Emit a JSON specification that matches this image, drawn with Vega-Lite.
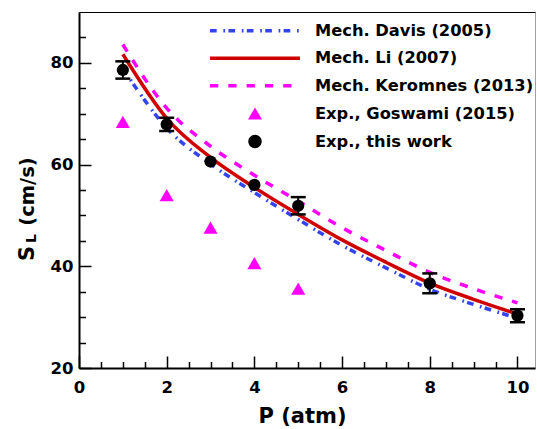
{
  "$schema": "https://vega.github.io/schema/vega-lite/v6.json",
  "width": 456,
  "height": 356,
  "autosize": {"type": "none"},
  "padding": {"left": 79, "top": 12, "right": 2, "bottom": 61},
  "background": "white",
  "config": {
    "font": "DejaVu Sans",
    "view": {"stroke": "#a0a0a0", "strokeWidth": 1},
    "axis": {
      "grid": false,
      "labelFont": "DejaVu Sans",
      "labelFontSize": 16.5,
      "labelFontWeight": "bold",
      "labelColor": "#000",
      "titleFont": "DejaVu Sans",
      "titleFontWeight": "bold",
      "titleColor": "#000",
      "tickColor": "#000",
      "domainColor": "#000"
    },
    "legend": {
      "orient": "none",
      "title": null,
      "padding": 0,
      "symbolSize": 8100,
      "symbolStrokeWidth": 3.5,
      "clipHeight": 20,
      "rowPadding": 7.6,
      "labelOffset": 13,
      "labelFont": "DejaVu Sans",
      "labelFontSize": 16.3,
      "labelFontWeight": "bold",
      "labelColor": "#000",
      "labelLimit": 400,
      "symbolOpacity": 1
    }
  },
  "datasets": {
    "lines": [
      {"series": "Mech. Davis (2005)", "P": 1, "SL": 78.9},
      {"series": "Mech. Davis (2005)", "P": 2, "SL": 67.2},
      {"series": "Mech. Davis (2005)", "P": 3, "SL": 60.1},
      {"series": "Mech. Davis (2005)", "P": 4, "SL": 54.5},
      {"series": "Mech. Davis (2005)", "P": 5, "SL": 49.2},
      {"series": "Mech. Davis (2005)", "P": 6, "SL": 44.1},
      {"series": "Mech. Davis (2005)", "P": 7, "SL": 39.7},
      {"series": "Mech. Davis (2005)", "P": 8, "SL": 35.5},
      {"series": "Mech. Davis (2005)", "P": 9, "SL": 32.5},
      {"series": "Mech. Davis (2005)", "P": 10, "SL": 29.8},
      {"series": "Mech. Li (2007)", "P": 1, "SL": 81.7},
      {"series": "Mech. Li (2007)", "P": 2, "SL": 69.1},
      {"series": "Mech. Li (2007)", "P": 3, "SL": 61.4},
      {"series": "Mech. Li (2007)", "P": 4, "SL": 55.5},
      {"series": "Mech. Li (2007)", "P": 5, "SL": 50.2},
      {"series": "Mech. Li (2007)", "P": 6, "SL": 45.2},
      {"series": "Mech. Li (2007)", "P": 7, "SL": 40.8},
      {"series": "Mech. Li (2007)", "P": 8, "SL": 36.7},
      {"series": "Mech. Li (2007)", "P": 9, "SL": 33.5},
      {"series": "Mech. Li (2007)", "P": 10, "SL": 30.6},
      {"series": "Mech. Keromnes (2013)", "P": 1, "SL": 83.6},
      {"series": "Mech. Keromnes (2013)", "P": 2, "SL": 71.1},
      {"series": "Mech. Keromnes (2013)", "P": 3, "SL": 63.6},
      {"series": "Mech. Keromnes (2013)", "P": 4, "SL": 57.9},
      {"series": "Mech. Keromnes (2013)", "P": 5, "SL": 52.8},
      {"series": "Mech. Keromnes (2013)", "P": 6, "SL": 47.6},
      {"series": "Mech. Keromnes (2013)", "P": 7, "SL": 43.1},
      {"series": "Mech. Keromnes (2013)", "P": 8, "SL": 38.8},
      {"series": "Mech. Keromnes (2013)", "P": 9, "SL": 35.6},
      {"series": "Mech. Keromnes (2013)", "P": 10, "SL": 32.8}
    ],
    "goswami": [
      {"series": "Exp., Goswami (2015)", "P": 1, "SL": 68.4},
      {"series": "Exp., Goswami (2015)", "P": 2, "SL": 54.0},
      {"series": "Exp., Goswami (2015)", "P": 3, "SL": 47.6},
      {"series": "Exp., Goswami (2015)", "P": 4, "SL": 40.6},
      {"series": "Exp., Goswami (2015)", "P": 5, "SL": 35.6}
    ],
    "thiswork": [
      {"series": "Exp., this work", "P": 1, "SL": 78.6, "lo": 76.9, "hi": 80.3},
      {"series": "Exp., this work", "P": 2, "SL": 67.9, "lo": 66.6, "hi": 69.2},
      {"series": "Exp., this work", "P": 3, "SL": 60.6, "lo": null, "hi": null},
      {"series": "Exp., this work", "P": 4, "SL": 56.0, "lo": null, "hi": null},
      {"series": "Exp., this work", "P": 5, "SL": 51.9, "lo": 50.2, "hi": 53.6},
      {"series": "Exp., this work", "P": 8, "SL": 36.65, "lo": 34.7, "hi": 38.6},
      {"series": "Exp., this work", "P": 10, "SL": 30.3, "lo": 29.0, "hi": 31.55}
    ]
  },
  "layer": [
    {
      "data": {"name": "lines"},
      "transform": [{"filter": "datum.series === 'Mech. Davis (2005)'"}],
      "mark": {"type": "line", "interpolate": "monotone", "strokeWidth": 3.5, "strokeCap": "butt", "strokeDash": [6.7, 6.7, 1.7, 3.3]},
      "encoding": {
        "x": {
          "field": "P", "type": "quantitative",
          "scale": {"domain": [0, 10.4], "nice": false, "zero": false},
          "axis": {
            "orient": "bottom", "values": [0, 2, 4, 6, 8, 10], "ticks": false,
            "domain": true, "domainWidth": 2, "labelPadding": 11, "labelFlush": false, "labelOverlap": false,
            "title": "P (atm)", "titleFontSize": 21, "titleX": 223, "titleY": 54,
            "titleAlign": "center", "titleBaseline": "alphabetic"
          }
        },
        "y": {
          "field": "SL", "type": "quantitative",
          "scale": {"domain": [20, 90], "nice": false, "zero": false},
          "axis": {
            "orient": "left", "values": [20, 40, 60, 80], "ticks": false,
            "domain": true, "domainWidth": 2, "labelPadding": 6, "labelFlush": false, "labelOverlap": false,
            "title": "S", "titleFontSize": 21, "titleX": -46, "titleY": 241, "titleAngle": -90,
            "titleAlign": "center", "titleBaseline": "alphabetic"
          }
        },
        "color": {
          "field": "series", "type": "nominal",
          "scale": {"range": ["#3344ee"]},
          "legend": {"legendX": 129, "legendY": 8.7, "symbolType": "M-1,0L1,0", "symbolDash": [6.7, 6.7, 1.7, 3.3]}
        }
      }
    },
    {
      "data": {"name": "lines"},
      "transform": [{"filter": "datum.series === 'Mech. Li (2007)'"}],
      "mark": {"type": "line", "interpolate": "monotone", "strokeWidth": 3.5, "strokeCap": "butt"},
      "encoding": {
        "x": {
          "field": "P", "type": "quantitative",
          "scale": {"domain": [0, 10.4], "nice": false, "zero": false},
          "axis": null
        },
        "y": {
          "field": "SL", "type": "quantitative",
          "scale": {"domain": [20, 90], "nice": false, "zero": false},
          "axis": null
        },
        "color": {
          "field": "series", "type": "nominal",
          "scale": {"range": ["#d00000"]},
          "legend": {"legendX": 129, "legendY": 36.3, "symbolType": "M-1,0L1,0"}
        }
      }
    },
    {
      "data": {"name": "lines"},
      "transform": [{"filter": "datum.series === 'Mech. Keromnes (2013)'"}],
      "mark": {"type": "line", "interpolate": "monotone", "strokeWidth": 3.5, "strokeCap": "butt", "strokeDash": [8.3, 10]},
      "encoding": {
        "x": {
          "field": "P", "type": "quantitative",
          "scale": {"domain": [0, 10.4], "nice": false, "zero": false},
          "axis": null
        },
        "y": {
          "field": "SL", "type": "quantitative",
          "scale": {"domain": [20, 90], "nice": false, "zero": false},
          "axis": null
        },
        "color": {
          "field": "series", "type": "nominal",
          "scale": {"range": ["#ff00ff"]},
          "legend": {"legendX": 129, "legendY": 63.7, "symbolType": "M-1,0L1,0", "symbolDash": [8.3, 10]}
        }
      }
    },
    {
      "data": {"name": "goswami"},
      "mark": {"type": "point", "shape": "triangle-up", "filled": true, "size": 200, "opacity": 1},
      "encoding": {
        "x": {
          "field": "P", "type": "quantitative",
          "scale": {"domain": [0, 10.4], "nice": false, "zero": false},
          "axis": {"orient": "bottom", "values": [0, 2, 4, 6, 8, 10], "ticks": true, "tickSize": -12, "tickWidth": 1.5, "labels": false, "domain": false, "title": null}
        },
        "y": {
          "field": "SL", "type": "quantitative",
          "scale": {"domain": [20, 90], "nice": false, "zero": false},
          "axis": {
            "orient": "left", "values": [20, 40, 60, 80], "ticks": true, "tickSize": -12, "tickWidth": 1.5, "labels": false, "domain": false,
            "title": "(cm/s)", "titleFontSize": 19.5, "titleX": -46, "titleY": 179, "titleAngle": -90,
            "titleAlign": "center", "titleBaseline": "alphabetic"
          }
        },
        "color": {
          "field": "series", "type": "nominal",
          "scale": {"range": ["#ff00ff"]},
          "legend": {"legendX": 129, "legendY": 91.5, "symbolType": "M0,-0.1347L-0.1556,0.1347L0.1556,0.1347Z"}
        }
      }
    },
    {
      "data": {"name": "thiswork"},
      "mark": {"type": "rule", "color": "#000", "strokeWidth": 2},
      "encoding": {
        "x": {
          "field": "P", "type": "quantitative",
          "scale": {"domain": [0, 10.4], "nice": false, "zero": false},
          "axis": {"orient": "top", "ticks": false, "labels": false, "domain": true, "domainWidth": 1, "domainColor": "#000", "title": null}
        },
        "y": {
          "field": "lo", "type": "quantitative",
          "scale": {"domain": [20, 90], "nice": false, "zero": false},
          "axis": null
        },
        "y2": {"field": "hi"}
      }
    },
    {
      "data": {"name": "thiswork"},
      "transform": [{"fold": ["lo", "hi"], "as": ["k", "v"]}],
      "mark": {"type": "tick", "orient": "horizontal", "size": 15, "thickness": 2.5, "color": "#000", "opacity": 1},
      "encoding": {
        "x": {
          "field": "P", "type": "quantitative",
          "scale": {"domain": [0, 10.4], "nice": false, "zero": false},
          "axis": null
        },
        "y": {
          "field": "v", "type": "quantitative",
          "scale": {"domain": [20, 90], "nice": false, "zero": false},
          "axis": null
        }
      }
    },
    {
      "data": {"name": "thiswork"},
      "mark": {"type": "point", "shape": "circle", "filled": true, "size": 150, "opacity": 1},
      "encoding": {
        "x": {
          "field": "P", "type": "quantitative",
          "scale": {"domain": [0, 10.4], "nice": false, "zero": false},
          "axis": {"orient": "bottom", "values": [0.5, 1, 1.5, 2.5, 3, 3.5, 4.5, 5, 5.5, 6.5, 7, 7.5, 8.5, 9, 9.5], "ticks": true, "tickSize": -6.5, "tickWidth": 1.5, "labels": false, "domain": false, "title": null}
        },
        "y": {
          "field": "SL", "type": "quantitative",
          "scale": {"domain": [20, 90], "nice": false, "zero": false},
          "axis": {
            "orient": "left", "values": [25, 30, 35, 45, 50, 55, 65, 70, 75, 85], "ticks": true, "tickSize": -6.5, "tickWidth": 1.5, "labels": false, "domain": false,
            "title": "L", "titleFontSize": 14, "titleX": -44, "titleY": 226, "titleAngle": -90,
            "titleAlign": "center", "titleBaseline": "alphabetic"
          }
        },
        "color": {
          "field": "series", "type": "nominal",
          "scale": {"range": ["#000000"]},
          "legend": {"legendX": 129, "legendY": 119.5, "symbolType": "M0.149,0A0.149,0.149,0,1,1,-0.149,0A0.149,0.149,0,1,1,0.149,0Z"}
        }
      }
    }
  ],
  "resolve": {
    "scale": {"color": "independent"},
    "axis": {"x": "independent", "y": "independent"}
  }
}
